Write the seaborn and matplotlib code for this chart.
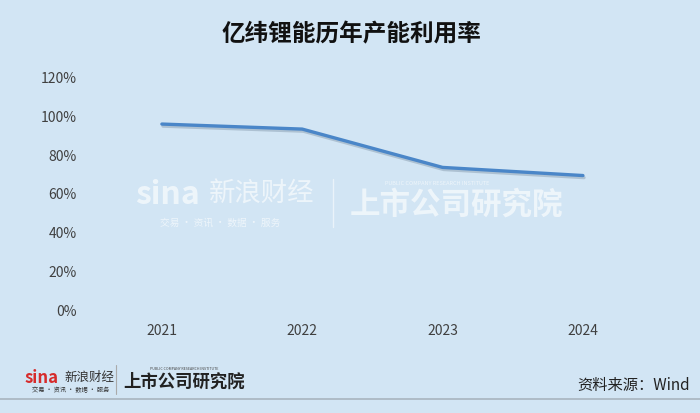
import pandas as pd
import numpy as np
import matplotlib
matplotlib.use('Agg')
import matplotlib.pyplot as plt
import matplotlib.patheffects as pe
import seaborn as sns

# data
years = ['2021', '2022', '2023', '2024']
utilization = [95.6, 93.0, 73.2, 69.0]
y_ticks = [0, 20, 40, 60, 80, 100, 120]

df = pd.DataFrame({'year': years, 'rate': utilization})

bg = '#d2e5f4'
sns.set_theme(style='white')
plt.rcParams['font.family'] = ['Noto Sans CJK SC', 'DejaVu Sans']

fig = plt.figure(figsize=(7, 4.14), dpi=100, facecolor=bg)
ax = fig.add_axes([0.131, 0.251, 0.802, 0.561], facecolor=bg)

sns.lineplot(data=df, x='year', y='rate', ax=ax, color='#4a86c8', linewidth=2.4,
             sort=False,
             path_effects=[pe.SimpleLineShadow(offset=(0.8, -1.5), shadow_color='#6a7f95', alpha=0.35),
                           pe.Normal()])

ax.set_xlim(-0.5, 3.5)
ax.set_ylim(0, 120)
ax.set_yticks(y_ticks)
ax.set_yticklabels([f'{v}%' for v in y_ticks])
ax.tick_params(axis='y', length=0, pad=11, labelsize=10, labelcolor='#404040')
ax.tick_params(axis='x', length=0, pad=10, labelsize=10, labelcolor='#404040')
ax.set_xlabel('')
ax.set_ylabel('')
for s in ax.spines.values():
    s.set_visible(False)
ax.grid(False)

fig.text(0.502, 0.917, '亿纬锂能历年产能利用率', ha='center', va='center',
         fontsize=17, fontweight='bold', color='#111111')

# watermark in plot area
wm = dict(color='white', alpha=0.62, transform=fig.transFigure)
fig.text(0.193, 0.53, 'sina', fontsize=23, fontweight='bold', style='italic', va='center', ha='left', **wm)
fig.text(0.298, 0.53, '新浪财经', fontsize=19, va='center', ha='left', **wm)
fig.text(0.228, 0.462, '交易 · 资讯 · 数据 · 服务', fontsize=7, va='center', ha='left', **wm)
fig.lines.append(plt.Line2D([0.476, 0.476], [0.45, 0.565], color='white', alpha=0.55, lw=1,
                            transform=fig.transFigure))
fig.text(0.5, 0.505, '上市公司研究院', fontsize=22, fontweight='bold', style='italic', va='center', ha='left', **wm)
fig.text(0.55, 0.556, 'PUBLIC COMPANY RESEARCH INSTITUTE', fontsize=4, va='center', ha='left', **wm)

# bottom logos
fig.text(0.035, 0.087, 'sina', fontsize=12, fontweight='bold', style='italic', color='#d62b2b', va='center')
fig.text(0.092, 0.087, '新浪财经', fontsize=9, color='#333333', va='center')
fig.text(0.045, 0.058, '交易 · 资讯 · 数据 · 服务', fontsize=4.5, color='#333333', va='center')
fig.lines.append(plt.Line2D([0.165, 0.165], [0.045, 0.115], color='#aaaaaa', lw=0.8,
                            transform=fig.transFigure))
fig.text(0.176, 0.078, '上市公司研究院', fontsize=12.5, fontweight='bold', style='italic', color='#222222', va='center')
fig.text(0.215, 0.108, 'PUBLIC COMPANY RESEARCH INSTITUTE', fontsize=2.6, color='#444444', va='center')

fig.text(0.985, 0.068, '资料来源：Wind', ha='right', va='center', fontsize=11, color='#222222')
fig.lines.append(plt.Line2D([0, 1], [0.033, 0.033], color='#a8b4be', lw=1.2,
                            transform=fig.transFigure))

fig.savefig('out.png', dpi=100, facecolor=bg)
